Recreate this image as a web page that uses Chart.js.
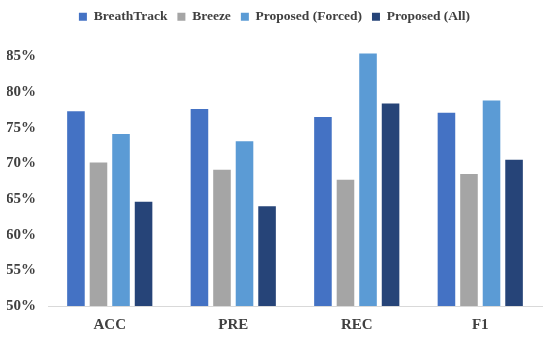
<!DOCTYPE html>
<html>
<head>
<meta charset="utf-8">
<script src="https://cdn.jsdelivr.net/npm/chart.js@4"></script>
<style>
  body { margin: 0; background: #fff; }
  #wrap { width: 550px; height: 339px; }
</style>
</head>
<body>
<div id="wrap"><canvas id="myChart" width="550" height="339"></canvas></div>
<script>
// values (percent)
const categories = ["ACC", "PRE", "REC", "F1"];
const breathTrack = [77.3, 77.6, 76.5, 77.1];
const breeze = [70.1, 69.1, 67.7, 68.5];
const proposedForced = [74.1, 73.1, 85.4, 78.8];
const proposedAll = [64.6, 64.0, 78.4, 70.5];
const yTicks = [50, 55, 60, 65, 70, 75, 80, 85];

const serif = "'Liberation Serif', 'Times New Roman', serif";
const tickFont = { family: serif, weight: "bold", size: 15 };
const legendFont = { family: serif, weight: "bold", size: 13.5 };
const textColor = "#404040";

const ctx = document.getElementById("myChart").getContext("2d");
new Chart(ctx, {
    type: 'bar',
    data: {
        labels: categories,
        datasets: [
            { label: 'BreathTrack', data: breathTrack, backgroundColor: '#4472C4' },
            { label: 'Breeze', data: breeze, backgroundColor: '#A5A5A5' },
            { label: 'Proposed (Forced)', data: proposedForced, backgroundColor: '#5B9BD5' },
            { label: 'Proposed (All)', data: proposedAll, backgroundColor: '#264478' }
        ]
    },
    options: {
        responsive: false,
        animation: false,
        categoryPercentage: 0.73,
        barPercentage: 0.78,
        layout: { padding: { left: 7, right: 8, top: 0, bottom: 5 } },
        plugins: {
            legend: {
                position: 'top',
                labels: {
                    color: textColor,
                    font: legendFont,
                    boxWidth: 8,
                    boxHeight: 8,
                    padding: 10
                }
            },
            tooltip: { enabled: false }
        },
        scales: {
            x: {
                grid: { display: false, drawTicks: false },
                border: { color: '#D9D9D9' },
                ticks: { color: textColor, font: tickFont, padding: 10 },
                afterFit: axis => { axis.height = 28; }
            },
            y: {
                min: 50,
                max: 88.2,
                grid: { display: false, drawTicks: false },
                border: { display: false },
                afterBuildTicks: axis => { axis.ticks = yTicks.map(v => ({ value: v })); },
                afterFit: axis => { axis.width = 41; },
                ticks: {
                    color: textColor,
                    font: tickFont,
                    padding: 12,
                    callback: v => v + '%'
                }
            }
        }
    }
});
</script>
</body>
</html>
